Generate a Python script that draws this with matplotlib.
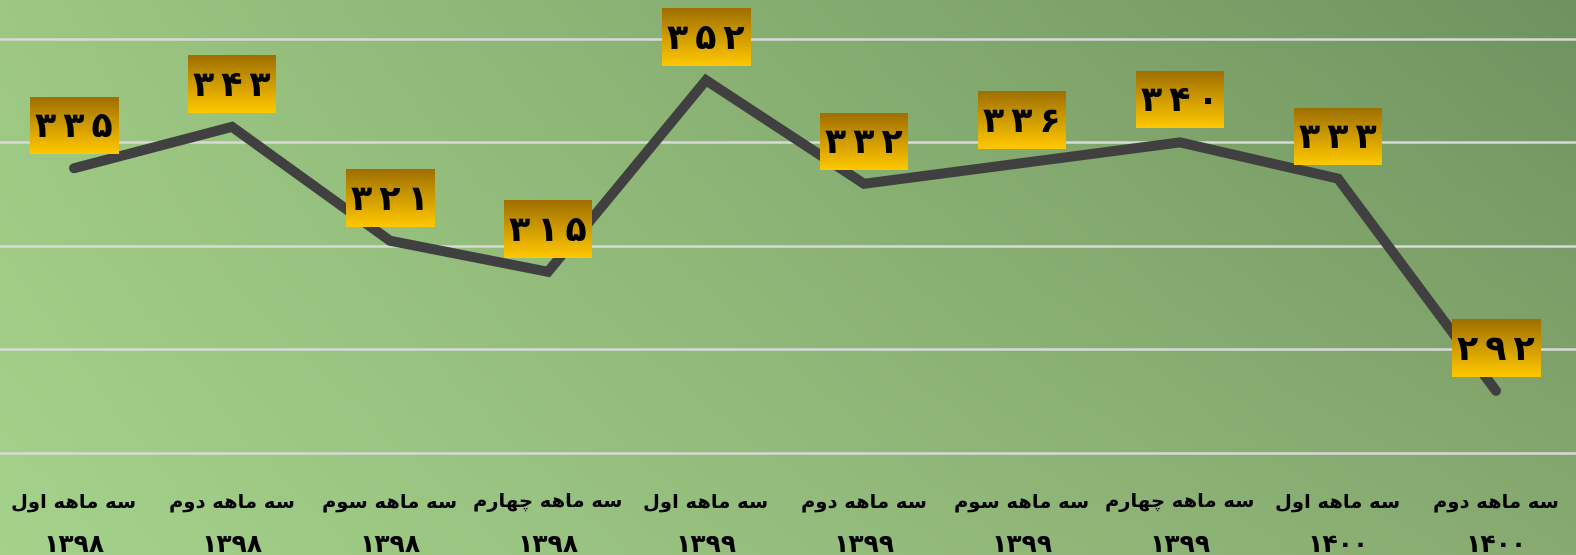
import numpy as np
import matplotlib.pyplot as plt

quarters = ["سه ماهه اول", "سه ماهه دوم", "سه ماهه سوم", "سه ماهه چهارم",
            "سه ماهه اول", "سه ماهه دوم", "سه ماهه سوم", "سه ماهه چهارم",
            "سه ماهه اول", "سه ماهه دوم"]
years = ["۱۳۹۸", "۱۳۹۸", "۱۳۹۸", "۱۳۹۸", "۱۳۹۹",
         "۱۳۹۹", "۱۳۹۹", "۱۳۹۹", "۱۴۰۰", "۱۴۰۰"]
values = [335, 343, 321, 315, 352, 332, 336, 340, 333, 292]

# presentation forms: isolated, final, initial, medial
forms = {
    "ا": ("\uFE8D", "\uFE8E", None, None),
    "د": ("\uFEA9", "\uFEAA", None, None),
    "ر": ("\uFEAD", "\uFEAE", None, None),
    "و": ("\uFEED", "\uFEEE", None, None),
    "س": ("\uFEB1", "\uFEB2", "\uFEB3", "\uFEB4"),
    "ه": ("\uFEE9", "\uFEEA", "\uFEEB", "\uFEEC"),
    "م": ("\uFEE1", "\uFEE2", "\uFEE3", "\uFEE4"),
    "ل": ("\uFEDD", "\uFEDE", "\uFEDF", "\uFEE0"),
    "چ": ("\uFB7A", "\uFB7B", "\uFB7C", "\uFB7D"),
}


def shape(text):
    out = []
    for i, ch in enumerate(text):
        if ch not in forms:
            out.append(ch)
            continue
        prev = text[i-1] if i > 0 else ""
        nxt = text[i+1] if i < len(text)-1 else ""
        pj = prev in forms and forms[prev][2] is not None
        dual = forms[ch][2] is not None
        nj = dual and nxt in forms
        if pj and nj:
            out.append(forms[ch][3])
        elif pj:
            out.append(forms[ch][1])
        elif nj:
            out.append(forms[ch][2])
        else:
            out.append(forms[ch][0])
    return "".join(out)[::-1]


def fa_digits(n):
    return "\u2009".join(str(n).translate(str.maketrans("0123456789", "۰۱۲۳۴۵۶۷۸۹")))


W, H = 1576, 555
fig = plt.figure(figsize=(W/100, H/100), dpi=100)

# background gradient
bg = fig.add_axes([0, 0, 1, 1], zorder=-10)
c_tl = np.array([157, 199, 130]) / 255
c_bl = np.array([164, 210, 139]) / 255
c_tr = np.array([111, 147, 95]) / 255
c_br = np.array([135, 170, 112]) / 255
xx, yy = np.meshgrid(np.linspace(0, 1, 200), np.linspace(0, 1, 80))
grad = ((1-xx)*(1-yy))[..., None]*c_tl + ((1-xx)*yy)[..., None]*c_bl \
    + (xx*(1-yy))[..., None]*c_tr + (xx*yy)[..., None]*c_br
bg.imshow(grad, aspect="auto", extent=[0, 1, 0, 1], origin="upper")
bg.axis("off")

ax = fig.add_axes([-5/W, 102/H, 1580/W, 453/H])
ax.patch.set_alpha(0)
x = np.arange(len(values))
ax.set_xlim(-0.5, len(values)-0.5)
ax.set_ylim(280, 367.5)
ax.set_yticks([280, 300, 320, 340, 360])
ax.grid(axis="y", color="#d9d9d9", linewidth=1.8, clip_on=False)
ax.set_axisbelow(True)
ax.tick_params(left=False, bottom=False, labelleft=False, labelbottom=False)
for s in ax.spines.values():
    s.set_visible(False)

ax.plot(x, values, color="#404040", linewidth=7.2, solid_capstyle="round",
        solid_joinstyle="miter", zorder=2)

# gradient label boxes
box = np.linspace(0, 1, 60)[:, None, None] * (np.array([255, 200, 0]) - np.array([160, 112, 0])) \
    + np.array([160, 112, 0])
box = np.repeat(box / 255, 2, axis=1)
inv = ax.transData.inverted()
for i, v in enumerate(values):
    px, py = ax.transData.transform((i, v))
    x0, y0 = inv.transform((px - 44, py + 14))
    x1, y1 = inv.transform((px + 44, py + 71))
    yb = inv.transform((px, py + 31))[1]
    ax.imshow(box, extent=[x0, x1, y0, y1], aspect="auto", origin="upper", zorder=3)
    ax.text(i, yb, fa_digits(v), ha="center", va="baseline",
            fontsize=25, fontweight="bold", family="DejaVu Sans", zorder=4)
ax.set_xlim(-0.5, len(values)-0.5)
ax.set_ylim(280, 367.5)

for i in range(len(values)):
    ax.annotate(shape(quarters[i]), xy=(i, 0), xycoords=("data", "axes fraction"),
                xytext=(0, -35.3), textcoords="offset points", ha="center", va="center",
                fontsize=14, fontweight="bold", family="DejaVu Sans")
    ax.annotate(years[i], xy=(i, 0), xycoords=("data", "axes fraction"),
                xytext=(0, -66.2), textcoords="offset points", ha="center", va="center",
                fontsize=18, fontweight="bold", family="DejaVu Sans")

fig.savefig("out.png", dpi=100)
